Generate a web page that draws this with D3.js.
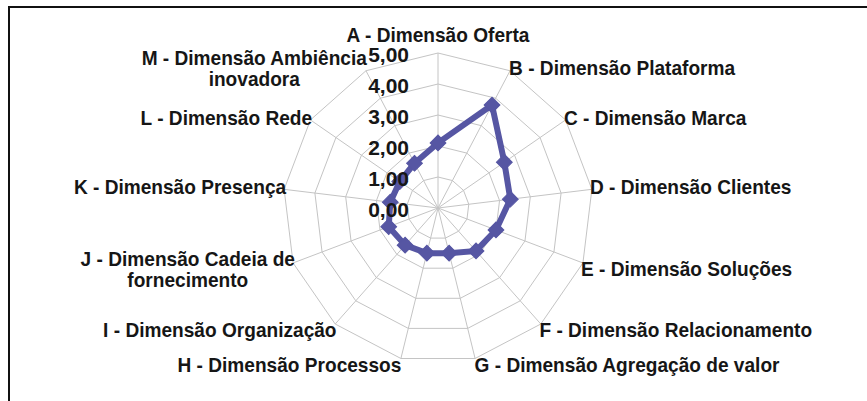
<!DOCTYPE html>
<html><head><meta charset="utf-8">
<script src="https://cdn.jsdelivr.net/npm/d3@7"></script>
<style>
body{margin:0;background:#fff}
svg text{font-family:"Liberation Sans",Arial,sans-serif;font-weight:bold;fill:#161616}
</style>
</head><body>
<svg id="chart" width="867" height="401"></svg>
<script>
const categories = [
  "A - Dimensão Oferta",
  "B - Dimensão Plataforma",
  "C - Dimensão Marca",
  "D - Dimensão Clientes",
  "E - Dimensão Soluções",
  "F - Dimensão Relacionamento",
  "G - Dimensão Agregação de valor",
  "H - Dimensão Processos",
  "I - Dimensão Organização",
  "J - Dimensão Cadeia de\nfornecimento",
  "K - Dimensão Presença",
  "L - Dimensão Rede",
  "M - Dimensão Ambiência\ninovadora"
];
const values = [2.1, 3.75, 2.6, 2.35, 2.0, 1.85, 1.5, 1.5, 1.6, 1.7, 1.55, 1.5, 1.63];
const tickValues = [0, 1, 2, 3, 4, 5];
const tickLabels = ["0,00", "1,00", "2,00", "3,00", "4,00", "5,00"];

const svg = d3.select("#chart");
const W = 867, H = 401;
const cx = 438, cy = 208, R = 155;
const n = categories.length;

// frame (top and left edges, as in the cropped reference)
svg.append("line").attr("x1", 9).attr("y1", 7).attr("x2", W).attr("y2", 7)
  .attr("stroke", "#111").attr("stroke-width", 2);
svg.append("line").attr("x1", 9).attr("y1", 6).attr("x2", 9).attr("y2", H)
  .attr("stroke", "#111").attr("stroke-width", 2);

const r = d3.scaleLinear().domain([0, 5]).range([0, R]);
const ang = d3.scaleLinear().domain([0, n]).range([0, 2 * Math.PI]);
const idx = d3.range(n);

const g = svg.append("g").attr("transform", `translate(${cx},${cy})`);

// rings
const ringLine = d3.lineRadial().angle(i => ang(i)).curve(d3.curveLinearClosed);
tickValues.filter(v => v > 0).forEach(v => {
  g.append("path")
    .attr("d", ringLine.radius(() => r(v))(idx))
    .attr("fill", "none").attr("stroke", "#c4c4c4").attr("stroke-width", 1);
});
// spokes
g.selectAll("line.spoke").data(idx).join("line").attr("class", "spoke")
  .attr("x1", 0).attr("y1", 0)
  .attr("x2", i => r(5) * Math.sin(ang(i)))
  .attr("y2", i => -r(5) * Math.cos(ang(i)))
  .attr("stroke", "#c4c4c4").attr("stroke-width", 1);

// series line
const seriesLine = d3.lineRadial()
  .angle((d, i) => ang(i)).radius(d => r(d)).curve(d3.curveLinearClosed);
const color = "#5656a3";
g.append("path").attr("d", seriesLine(values))
  .attr("fill", "none").attr("stroke", color).attr("stroke-width", 6)
  .attr("stroke-linejoin", "round");
const sym = d3.symbol().type(d3.symbolSquare).size(125);
g.selectAll("path.mk").data(values).join("path").attr("class", "mk")
  .attr("d", sym)
  .attr("transform", (d, i) => `translate(${r(d) * Math.sin(ang(i))},${-r(d) * Math.cos(ang(i))}) rotate(45)`)
  .attr("fill", color).attr("stroke", color).attr("stroke-width", 1);

// tick labels
g.selectAll("text.tick").data(tickValues).join("text").attr("class", "tick")
  .attr("x", -29).attr("y", v => -r(v) + 8.5)
  .attr("text-anchor", "end").style("font-size", "21px")
  .text((v, i) => tickLabels[i]);

// category labels
const fs = 20, lh = 21, sx = 0.955;
categories.forEach((lab, i) => {
  const a = ang(i);
  const s = Math.sin(a), c = Math.cos(a);
  const ex = cx + R * s, ey = cy - R * c;
  const lines = lab.split("\n");
  let yc;
  if (i === 0) yc = ey - 18;
  else yc = c > 0 ? ey - 2.5 : ey + 6;
  const xoff = i === 0 ? ex : ex - 2 * s;
  const holder = svg.append("g").attr("transform", `translate(${xoff},0) scale(${sx},1)`);
  const t = holder.append("text").style("font-size", fs + "px");
  const y0 = yc - (lines.length - 1) * lh / 2 + 0.36 * fs;
  lines.forEach((ln, k) => t.append("tspan").attr("y", y0 + k * lh).text(ln));
  if (i === 0) {
    t.attr("text-anchor", "middle").selectAll("tspan").attr("x", 0);
  } else if (lines.length > 1) {
    let maxW = 0;
    t.selectAll("tspan").each(function () { maxW = Math.max(maxW, this.getComputedTextLength()); });
    const xm = s > 0 ? maxW / 2 : -maxW / 2;
    t.attr("text-anchor", "middle").selectAll("tspan").attr("x", xm);
  } else {
    t.attr("text-anchor", s > 0 ? "start" : "end").selectAll("tspan").attr("x", 0);
  }
});
</script>
</body></html>
